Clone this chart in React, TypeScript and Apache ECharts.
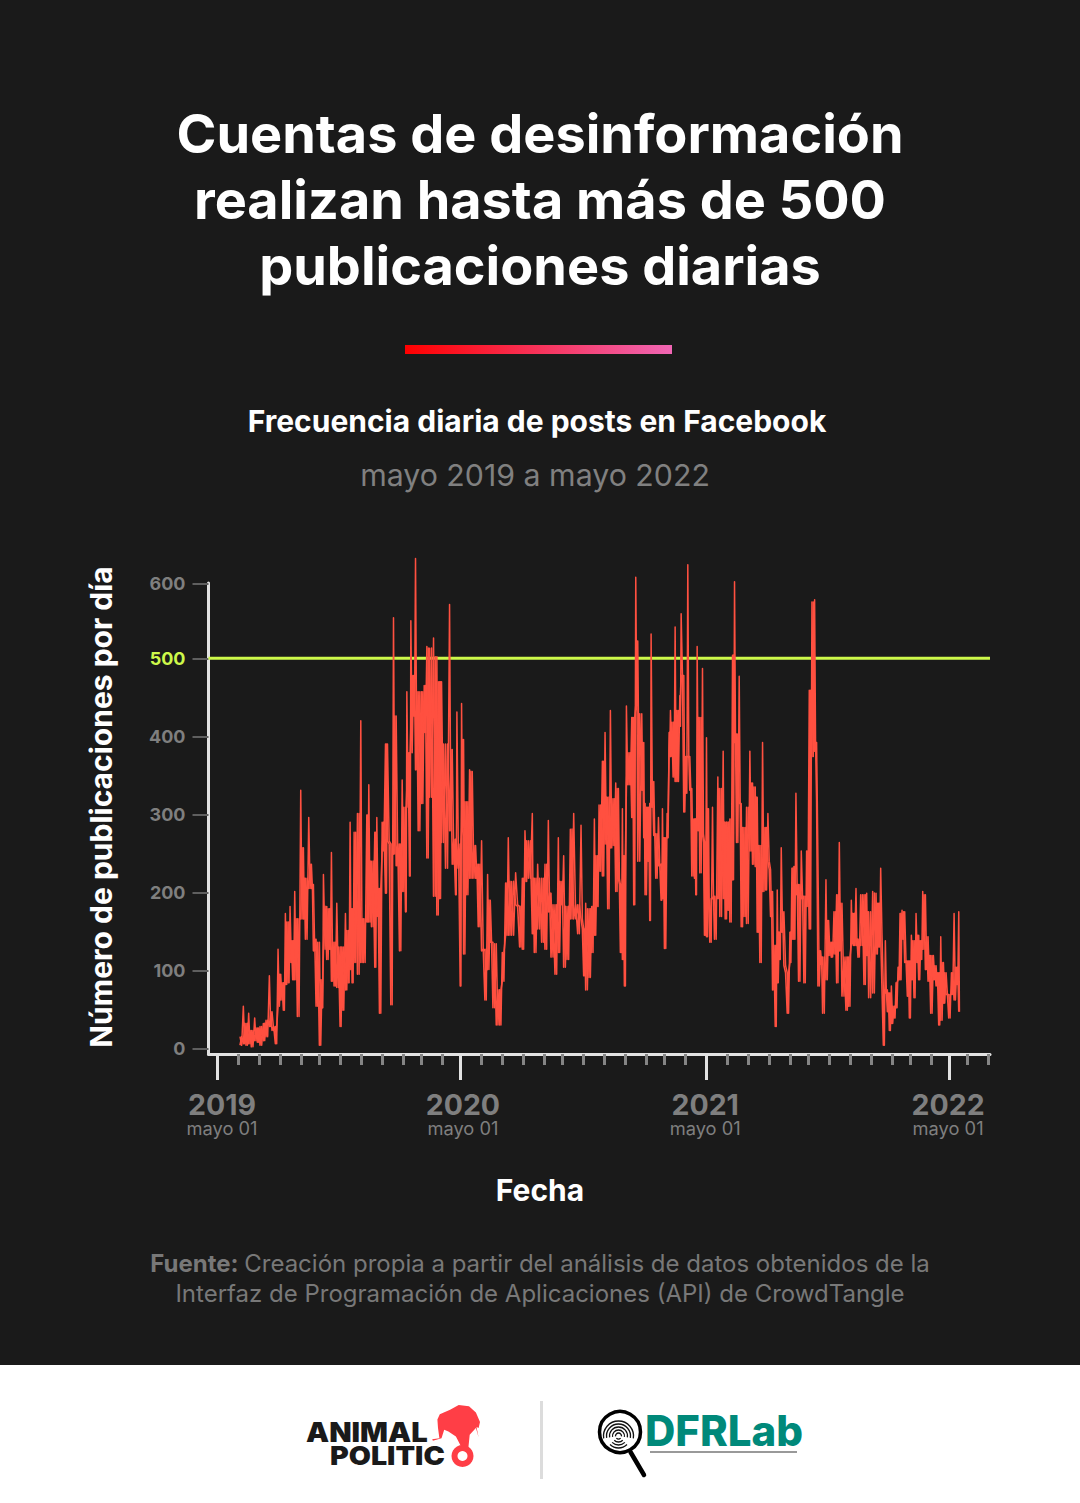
import React, { useEffect, useRef } from "react";
import * as echarts from "echarts";

const days = [33,38,42,46,50,55,59,63,68,72,77,81,86,90,94,98,101,105,108,112,115,119,124,128,131,136,140,143,147,152,156,158,163,167,170,174,178,183,186,191,195,198,201,204,209,214,218,223,226,230,235,238,242,246,251,254,259,263,267,272,276,281,283,287,289,293,296,300,305,309,313,317,323,328,332,335,341,347,351,356,358,363,365,368,372,377,381,386,390,395,400,404,408,412,417,422,426,431,435,440,446,452,456,460,465,471,474,479,485,490,495,499,505,510,514,518,523,528,533,539,544,548,551,556,560,564,568,571,576,580,584,588,592,596,600,603,606,609,612,616,620,623,626,629,635,638,640,644,647,649,653,656,660,664,666,669,673,676,678,682,685,688,692,694,698,701,704,707,710,714,716,718,722,726,729,732,735,737,741,744,749,752,757,760,764,767,771,774,777,781,784,788,792,797,801,805,808,812,816,820,824,828,831,835,838,841,844,848,853,857,860,863,866,870,874,878,882,886,890,894,897,899,903,906,911,915,919,923,927,931,935,941,945,949,952,956,959,963,968,972,975,981,986,990,993,997,1000,1003,1006,1009,1013,1016,1019,1022,1025,1029,1033,1036,1039,1043,1046,1050,1053,1056,1060,1064,1068,1072,1076,1080,1083,1087,1091,1095,1099,1103,1107,1110];
const highs = [15,54,32,45,23,39,26,28,32,36,93,47,28,127,95,84,173,162,182,138,201,166,331,257,218,296,236,210,140,136,88,223,182,179,251,136,186,130,130,173,151,290,179,277,301,420,166,299,338,240,277,296,205,290,390,390,262,552,426,262,344,309,457,379,548,478,628,457,457,465,515,513,526,502,470,470,390,569,383,268,431,262,442,396,316,357,355,260,236,266,127,223,190,136,134,75,123,212,270,214,225,182,218,279,266,301,218,236,218,236,292,199,184,270,214,247,182,281,301,184,286,153,186,179,182,294,247,312,368,405,322,433,320,340,333,210,307,247,439,379,424,424,604,522,429,392,314,309,314,531,342,275,296,236,307,270,301,405,433,418,540,433,452,557,478,374,620,374,333,294,294,515,424,487,264,398,307,192,309,195,348,333,381,290,290,294,504,598,403,477,314,283,309,381,340,335,322,260,392,283,301,229,201,132,203,149,257,175,97,149,231,233,327,210,253,195,253,459,572,575,392,318,125,117,216,164,136,175,197,264,186,117,117,190,173,205,140,197,197,199,175,201,199,186,231,75,138,75,71,80,54,84,104,173,177,175,112,112,145,138,173,145,138,201,197,143,119,119,106,97,143,110,97,69,97,173,104,175];
const lows = [4,6,4,6,2,10,8,4,10,15,28,23,6,54,62,49,82,84,110,88,88,41,166,166,140,205,205,125,54,4,52,127,114,127,86,80,78,28,49,75,84,101,84,110,95,110,110,162,162,156,104,169,45,253,199,266,56,249,234,125,201,175,309,221,379,426,357,279,314,405,244,322,195,171,192,264,231,279,236,197,231,80,283,121,197,218,218,218,156,125,62,101,136,52,30,30,86,145,145,145,184,130,127,214,218,147,123,153,136,127,175,117,95,123,184,104,114,166,166,147,166,93,75,91,123,145,182,227,221,262,179,257,260,201,218,123,114,80,338,338,296,184,439,240,331,270,197,240,164,309,273,218,234,190,192,128,270,383,374,348,342,342,413,478,303,327,374,331,221,218,197,279,225,275,145,143,192,136,192,140,192,169,192,166,177,162,216,392,264,314,156,169,160,253,236,233,149,110,201,203,240,169,75,28,84,114,149,106,45,110,140,140,197,86,192,84,182,153,374,381,318,80,108,45,88,119,117,121,84,125,67,49,54,134,132,132,117,132,82,119,65,71,121,130,145,4,71,47,23,32,39,52,88,88,140,110,67,39,88,65,110,88,114,127,101,86,45,88,80,30,36,58,69,39,69,62,82,47];

const yTicks = [0, 100, 200, 300, 400, 500, 596];
const yTickLabels = ["0", "100", "200", "300", "400", "500", "600"];
const majorTicks = [-1, 363, 732, 1096];
const minorTicks = [30,62,93,125,152,183,215,246,278,305,336,395,426,457,489,516,547,579,610,642,669,700,763,795,826,858,885,916,947,979,1010,1037,1069,1123,1154];
const xLabelAt = [6, 367, 730, 1094];
const xYears = ["2019", "2020", "2021", "2022"];
const xMonth = "mayo 01";
const threshold = 500;
const xMin = -14.2;
const xMax = 1156.8;

const FONT = "Inter";
const GREY = "#7f7f7f";
const SOURCE = "#787878";
const LIME = "#cdf84a";
const RED = "#ff5040";

function text(x: number, y: number, t: string, size: number, weight: number | string, fill: string, extra: any = {}) {
  return {
    type: "text",
    x,
    y,
    silent: true,
    style: { text: t, fontFamily: FONT, fontSize: size, fontWeight: weight, fill, textAlign: "center", textVerticalAlign: "middle", ...extra },
  };
}

function fingerprint() {
  const radii = [3, 6, 9, 12, 15];
  return radii.map((r) => ({
    type: "arc",
    silent: true,
    shape: { cx: 618.5, cy: 1436, r, startAngle: Math.PI * 0.95, endAngle: Math.PI * 2.05, clockwise: true },
    style: { stroke: "#111", lineWidth: 1.3, fill: "none" },
  })).concat(radii.slice(0, 4).map((r) => ({
    type: "arc",
    silent: true,
    shape: { cx: 618.5, cy: 1436, r, startAngle: Math.PI * 0.25, endAngle: Math.PI * 0.75, clockwise: true },
    style: { stroke: "#111", lineWidth: 1.3, fill: "none" },
  })) as any);
}

export default function App() {
  const ref = useRef<HTMLDivElement>(null);
  useEffect(() => {
    const chart = echarts.init(ref.current!, undefined, { renderer: "svg" });
    const line: number[][] = [];
    const body: number[][] = [];
    days.forEach((d, i) => {
      const last = i + 1 >= days.length;
      const next = last ? d + 2 : days[i + 1];
      line.push([d, highs[i]]);
      line.push([(d + next) / 2, lows[i]]);
      body.push([d, lows[i]]);
      body.push([(d + next) / 2, last ? lows[i] : Math.min(highs[i], highs[i + 1])]);
    });
    chart.setOption({
      animation: false,
      backgroundColor: "#1a1a1a",
      grid: { left: 208.5, top: 583, width: 781.5, height: 471, containLabel: false },
      xAxis: [
        {
          type: "value", min: xMin, max: xMax, position: "bottom", splitLine: { show: false },
          axisLine: { show: true, onZero: false, lineStyle: { color: "#e2e2e2", width: 3 } },
          axisTick: { show: true, customValues: majorTicks, length: 26, lineStyle: { color: "#e2e2e2", width: 3 } },
          axisLabel: {
            show: true, customValues: xLabelAt, margin: 34, showMinLabel: true, showMaxLabel: true,
            formatter: (v: number) => `{y|${xYears[xLabelAt.indexOf(v)]}}\n{m|${xMonth}}`,
            rich: {
              y: { fontFamily: FONT, fontWeight: 700, fontSize: 28.5, color: GREY, lineHeight: 32 },
              m: { fontFamily: FONT, fontWeight: 400, fontSize: 18.3, color: GREY, lineHeight: 16 },
            },
          },
        },
        {
          type: "value", min: xMin, max: xMax, position: "bottom", splitLine: { show: false },
          axisLine: { show: false, onZero: false },
          axisTick: { show: true, customValues: minorTicks, length: 11, lineStyle: { color: "#858585", width: 3 } },
          axisLabel: { show: false },
        },
      ],
      yAxis: {
        type: "value", min: -7.2, max: 596.5, splitLine: { show: false },
        axisLine: { show: true, onZero: false, lineStyle: { color: "#e2e2e2", width: 3 } },
        axisTick: { show: true, customValues: yTicks, length: 16, lineStyle: { color: "#5f5f5f", width: 2 } },
        axisLabel: {
          show: true, customValues: yTicks, margin: 23, showMinLabel: true, showMaxLabel: true,
          fontFamily: FONT, fontWeight: 700, fontSize: 18, padding: [0, 0, 4, 0],
          formatter: (v: number) => yTickLabels[yTicks.indexOf(v)],
          color: (v: any) => (Number(v) === threshold ? LIME : GREY),
        },
      },
      series: [
        {
          type: "line", xAxisIndex: 0, z: 1, symbol: "none", silent: true, clip: false,
          data: [[xMin, threshold], [xMax, threshold]],
          lineStyle: { color: LIME, width: 3 },
        },
        {
          type: "line", xAxisIndex: 0, z: 3, symbol: "none", silent: true, clip: false,
          data: body,
          lineStyle: { color: RED, width: 1.6, join: "round" },
        },
        {
          type: "line", xAxisIndex: 0, z: 3, symbol: "none", silent: true, clip: false,
          data: line,
          lineStyle: { color: RED, width: 1.5, join: "round" },
        },
      ],
      graphic: [
        text(540, 133, "Cuentas de desinformación", 54, 700, "#ffffff"),
        text(540, 199, "realizan hasta más de 500", 54, 700, "#ffffff"),
        text(540, 265, "publicaciones diarias", 54, 700, "#ffffff"),
        {
          type: "rect", silent: true, shape: { x: 405, y: 345, width: 267, height: 9 },
          style: { fill: new echarts.graphic.LinearGradient(0, 0, 1, 0, [{ offset: 0, color: "#ff0000" }, { offset: 1, color: "#f066b4" }]) },
        },
        text(537, 421, "Frecuencia diaria de posts en Facebook", 30, 700, "#ffffff"),
        text(535, 475, "mayo 2019 a mayo 2022", 30.3, 400, "#808080"),
        { ...text(0, 0, "Número de publicaciones por día", 30, 700, "#ffffff"), x: 100.5, y: 807, rotation: Math.PI / 2 },
        text(540, 1189.5, "Fecha", 30, 700, "#ffffff"),
        {
          type: "text", x: 540, y: 1263.5, silent: true,
          style: {
            text: "{b|Fuente:\u00a0}{r|Creación propia a partir del análisis de datos obtenidos de la}",
            textAlign: "center", textVerticalAlign: "middle",
            rich: {
              b: { fontFamily: FONT, fontWeight: 700, fontSize: 24, fill: SOURCE },
              r: { fontFamily: FONT, fontWeight: 400, fontSize: 24, fill: SOURCE },
            },
          },
        },
        text(540, 1293.5, "Interfaz de Programación de Aplicaciones (API) de CrowdTangle", 24, 400, SOURCE),
        { type: "rect", silent: true, shape: { x: 0, y: 1365, width: 1080, height: 138 }, style: { fill: "#ffffff" } },
        { type: "rect", silent: true, shape: { x: 540, y: 1401, width: 3, height: 78 }, style: { fill: "#dcdcdc" } },
        { ...text(0, 0, "ANIMAL", 27, 900, "#1a1a1a", { textAlign: "left" }), x: 306, y: 1432, scaleX: 1.08 },
        { ...text(0, 0, "POLITIC", 26, 900, "#1a1a1a", { textAlign: "left" }), x: 330, y: 1456, scaleX: 1.1 },
        {
          type: "polygon", silent: true,
          shape: { points: [[439.8,1414.2],[450.1,1409.7],[458.7,1404.9],[469,1406.3],[475.9,1412.5],[480,1422.1],[478.6,1428],[476.5,1426.9],[478.6,1437.2],[475.9,1428],[469.7,1434.8],[468.3,1448.6],[462.1,1448.6],[455.9,1436.5],[448.4,1431.4],[444.2,1429.7],[441.5,1438.3],[432.9,1440.7],[432.2,1439.3],[439.4,1438.3],[438,1428],[437.4,1419.4]] },
          style: { fill: "#ff3e46" },
        },
        { type: "ring", silent: true, shape: { cx: 462.5, cy: 1456, r: 11, r0: 5 }, style: { fill: "#ff3e46" } },
        { ...text(0, 0, "DFRLab", 42, 800, "#00897a", { textAlign: "left" }), x: 645, y: 1430 },
        { type: "line", silent: true, shape: { x1: 650, y1: 1452, x2: 797, y2: 1452 }, style: { stroke: "#999999", lineWidth: 2 } },
        { type: "circle", silent: true, shape: { cx: 620, cy: 1432, r: 20.5 }, style: { fill: "none", stroke: "#000000", lineWidth: 3.5 } },
        { type: "line", silent: true, shape: { x1: 630.5, y1: 1452, x2: 644, y2: 1475 }, style: { stroke: "#000000", lineWidth: 4.5, lineCap: "round" } },
        ...fingerprint(),
      ],
    });
    return () => chart.dispose();
  }, []);
  return <div ref={ref} style={{ position: "absolute", left: 0, top: 0, width: 1080, height: 1503 }} />;
}
